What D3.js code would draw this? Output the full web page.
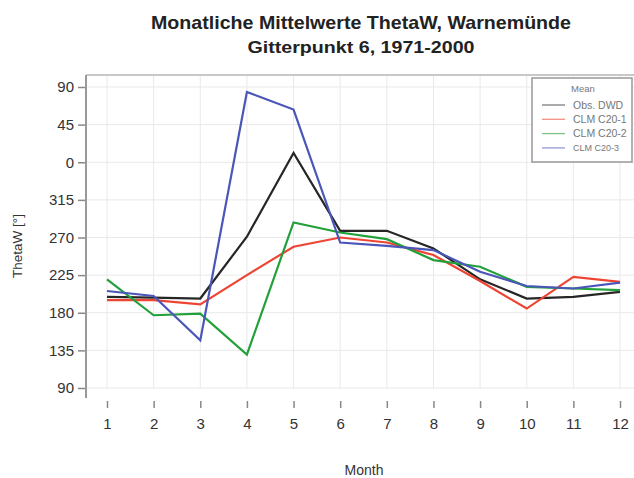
<!DOCTYPE html>
<html>
<head>
<meta charset="utf-8">
<script src="https://cdn.jsdelivr.net/npm/d3@7"></script>
<style>
  html, body { margin: 0; padding: 0; background: #fff; }
  svg { display: block; font-family: "Liberation Sans", Arial, sans-serif; }
</style>
</head>
<body>
<svg id="chart" width="634" height="478"></svg>
<script>
// ---- data ----
const months = [1, 2, 3, 4, 5, 6, 7, 8, 9, 10, 11, 12];
// wind direction in degrees (0–360); values below 90 are drawn above 360 (wrapped axis)
const obsDWD  = [199, 198, 197, 271, 11, 278, 278, 257, 220, 197, 199, 205];
const clmC201 = [195, 195, 190, 225, 259, 270, 264, 249, 218, 185, 223, 217];
const clmC202 = [220, 177, 179, 130, 288, 276, 268, 243, 235, 211, 209, 207];
const clmC203 = [206, 200, 147, 84, 63, 264, 260, 255, 229, 212, 209, 216];
const seriesNames = ["Obs. DWD", "CLM C20-1", "CLM C20-2", "CLM C20-3"];
const yTicks = [90, 135, 180, 225, 270, 315, 360, 405, 450]; // unwrapped positions
const titleText = "Monatliche Mittelwerte ThetaW, Warnemünde";
const subtitleText = "Gitterpunkt 6, 1971-2000";

const colors = ["#262626", "#ee4433", "#22a03a", "#4a56b8"];
const seriesData = [obsDWD, clmC201, clmC202, clmC203];

const svg = d3.select("#chart");
const x = d3.scaleLinear().domain([1, 12]).range([107, 620]);
const y = d3.scaleLinear().domain([90, 450]).range([388, 87]);
const unwrap = v => (v < 90 ? v + 360 : v);

const plotTop = 75, plotLeft = 86, plotRight = 634, plotBottom = 398;

// gridlines
const grid = svg.append("g");
grid.selectAll("line.v").data(months).enter().append("line")
  .attr("x1", d => x(d)).attr("x2", d => x(d))
  .attr("y1", plotTop).attr("y2", y(90))
  .attr("stroke", "#e9e9e9").attr("stroke-width", 1);
grid.selectAll("line.h").data(yTicks).enter().append("line")
  .attr("x1", plotLeft).attr("x2", plotRight)
  .attr("y1", d => y(d)).attr("y2", d => y(d))
  .attr("stroke", "#e9e9e9").attr("stroke-width", 1);

// top frame
svg.append("line").attr("x1", plotLeft).attr("x2", plotRight)
  .attr("y1", plotTop).attr("y2", plotTop)
  .attr("stroke", "#c8c8c8").attr("stroke-width", 2);

// y axis
const yAxis = d3.axisLeft(y).tickValues(yTicks)
  .tickFormat(d => String(d % 360)).tickSize(8).tickPadding(4);
const yg = svg.append("g").attr("transform", `translate(${plotLeft},0)`).call(yAxis);
yg.select(".domain").remove();
yg.selectAll(".tick line").attr("stroke", "#888").attr("stroke-width", 1.5);
yg.selectAll(".tick text").attr("font-size", 15).attr("fill", "#333")
  .attr("font-family", "Liberation Sans, Arial, sans-serif");
svg.append("line").attr("x1", plotLeft).attr("x2", plotLeft)
  .attr("y1", plotTop).attr("y2", plotBottom)
  .attr("stroke", "#999").attr("stroke-width", 2);

// x axis (detached ticks below plot)
const xAxis = d3.axisBottom(x).tickValues(months).tickFormat(d3.format("d"))
  .tickSize(7).tickPadding(10);
const xg = svg.append("g").attr("transform", "translate(0,401)").call(xAxis);
xg.select(".domain").remove();
xg.selectAll(".tick line").attr("stroke", "#888").attr("stroke-width", 1.5);
xg.selectAll(".tick text").attr("font-size", 15).attr("fill", "#333")
  .attr("font-family", "Liberation Sans, Arial, sans-serif");

// lines
const line = d3.line().x((d, i) => x(months[i])).y(d => y(unwrap(d)));
seriesData.forEach((s, k) => {
  svg.append("path").datum(s).attr("d", line)
    .attr("fill", "none").attr("stroke", colors[k]).attr("stroke-width", 2.2)
    .attr("stroke-linejoin", "miter");
});

// titles
svg.append("text").attr("x", 361).attr("y", 29).attr("text-anchor", "middle")
  .attr("font-size", 18.5).attr("font-weight", "bold").attr("fill", "#222")
  .attr("textLength", 420).attr("lengthAdjust", "spacingAndGlyphs").text(titleText);
svg.append("text").attr("x", 361).attr("y", 53).attr("text-anchor", "middle")
  .attr("font-size", 17).attr("font-weight", "bold").attr("fill", "#222")
  .attr("textLength", 227).attr("lengthAdjust", "spacingAndGlyphs").text(subtitleText);

// axis titles
svg.append("text").attr("x", 364).attr("y", 475).attr("text-anchor", "middle")
  .attr("font-size", 14).attr("fill", "#333").text("Month");
svg.append("text").attr("transform", "translate(22,246) rotate(-90)")
  .attr("text-anchor", "middle").attr("font-size", 13.5).attr("fill", "#333").text("ThetaW [°]");

// legend
const lg = svg.append("g");
lg.append("rect").attr("x", 532).attr("y", 78).attr("width", 100).attr("height", 84)
  .attr("fill", "#fff").attr("stroke", "#999").attr("stroke-width", 1.5);
lg.append("text").attr("x", 583).attr("y", 92).attr("text-anchor", "middle")
  .attr("font-size", 9.5).attr("fill", "#777").text("Mean");
seriesNames.forEach((n, k) => {
  const yy = 105 + k * 14.3;
  lg.append("line").attr("x1", 542).attr("x2", 565).attr("y1", yy).attr("y2", yy)
    .attr("stroke", colors[k]).attr("stroke-width", 1.3).attr("stroke-opacity", 0.6);
  lg.append("text").attr("x", 573).attr("y", yy + 3.5)
    .attr("font-size", k === 3 ? 9 : 10.5).attr("fill", "#777").text(n);
});
</script>
</body>
</html>
